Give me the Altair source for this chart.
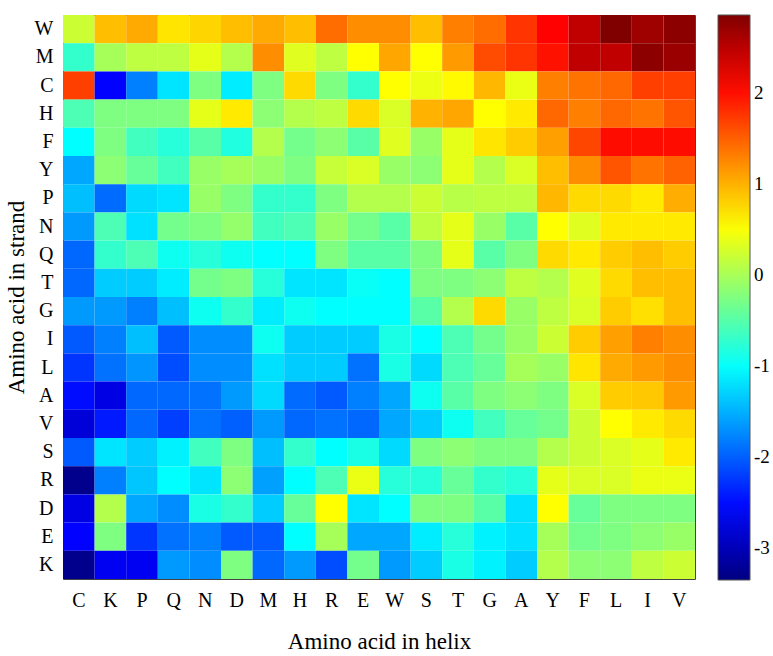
import altair as alt
import pandas as pd

helix = ["C", "K", "P", "Q", "N", "D", "M", "H", "R", "E",
         "W", "S", "T", "G", "A", "Y", "F", "L", "I", "V"]
strand = ["W", "M", "C", "H", "F", "Y", "P", "N", "Q", "T",
          "G", "I", "L", "A", "V", "S", "R", "D", "E", "K"]

row_W = [0.22, 0.92, 1.05, 0.69, 0.79, 0.92, 1.05, 0.92, 1.43, 1.23, 1.23, 0.92, 1.31, 1.43, 1.77, 2.08, 2.47, 2.86, 2.67, 2.78]
row_M = [-0.71, -0.01, 0.14, 0.14, 0.38, 0.07, 1.23, 0.34, 0.14, 0.53, 1.07, 0.53, 1.15, 1.62, 1.77, 1.98, 2.47, 2.47, 2.78, 2.70]
row_C = [1.70, -2.57, -1.80, -1.18, -0.25, -1.13, -0.25, 0.76, -0.25, -0.71, 0.53, 0.42, 0.56, 0.97, 0.41, 1.31, 1.38, 1.46, 1.70, 1.70]
row_H = [-0.56, -0.25, -0.25, -0.25, 0.38, 0.66, -0.17, 0.07, 0.14, 0.76, 0.30, 1.00, 1.07, 0.53, 0.66, 1.46, 1.31, 1.46, 1.38, 1.57]
row_F = [-1.02, -0.25, -0.63, -0.79, -0.48, -0.83, 0.07, -0.32, -0.17, -0.48, 0.34, -0.09, 0.38, 0.69, 0.84, 1.12, 1.66, 2.01, 2.01, 2.01]
row_Y = [-1.56, -0.17, -0.40, -0.63, -0.09, -0.01, -0.09, -0.25, 0.19, 0.30, -0.09, -0.17, 0.38, 0.07, 0.30, 0.92, 1.23, 1.57, 1.38, 1.49]
row_P = [-1.41, -1.92, -1.25, -1.18, -0.09, -0.25, -0.71, -0.71, -0.25, 0.07, 0.07, 0.22, 0.10, 0.14, 0.14, 0.97, 0.76, 0.76, 0.66, 1.03]
row_N = [-1.64, -0.56, -1.21, -0.32, -0.25, -0.12, -0.63, -0.56, -0.09, -0.32, -0.48, 0.14, 0.38, -0.09, -0.48, 0.53, 0.34, 0.66, 0.66, 0.66]
row_Q = [-1.95, -0.71, -0.56, -0.94, -0.79, -0.94, -1.02, -1.02, -0.25, -0.48, -0.48, -0.25, 0.38, -0.48, -0.25, 0.76, 0.66, 0.84, 0.92, 0.84]
row_T = [-1.95, -1.33, -1.33, -1.14, -0.32, -0.25, -0.79, -1.18, -1.18, -0.98, -1.02, -0.25, -0.25, -0.17, 0.14, 0.07, 0.34, 0.76, 0.92, 0.92]
row_G = [-1.64, -1.64, -1.80, -1.41, -0.94, -0.71, -1.14, -0.94, -1.02, -1.02, -1.02, -0.48, 0.07, 0.76, -0.09, 0.14, 0.30, 0.84, 0.72, 0.92]
row_I = [-2.03, -1.80, -1.41, -2.03, -1.72, -1.72, -0.94, -1.33, -1.33, -1.33, -0.87, -1.02, -0.56, -0.32, -0.09, 0.22, 0.84, 1.12, 1.31, 1.23]
row_L = [-2.26, -1.88, -1.67, -2.11, -1.72, -1.72, -1.21, -1.33, -1.33, -1.88, -0.87, -1.25, -0.56, -0.40, -0.01, -0.09, 0.69, 1.05, 1.15, 1.23]
row_A = [-2.50, -2.73, -1.95, -1.95, -1.88, -1.64, -1.25, -1.92, -2.03, -1.80, -1.56, -0.94, -0.48, -0.25, -0.17, -0.25, 0.30, 0.84, 0.87, 1.15]
row_V = [-2.81, -2.42, -1.95, -2.19, -1.88, -1.99, -1.64, -1.95, -1.88, -1.95, -1.56, -1.33, -0.94, -0.63, -0.40, -0.32, 0.22, 0.53, 0.66, 0.76]
row_S = [-2.03, -1.18, -1.33, -1.10, -0.63, -0.25, -1.41, -0.71, -1.02, -0.87, -1.25, -0.25, -0.17, -0.25, -0.25, 0.07, 0.22, 0.30, 0.38, 0.66]
row_R = [-3.27, -1.80, -1.37, -1.02, -1.18, -0.17, -1.60, -1.02, -0.56, 0.41, -0.79, -0.79, -0.40, -0.71, -0.79, 0.38, 0.30, 0.30, 0.41, 0.41]
row_D = [-2.73, 0.07, -1.56, -1.72, -0.87, -0.71, -1.33, -0.40, 0.53, -1.18, -1.02, -0.25, -0.25, -0.48, -1.21, 0.53, -0.40, -0.25, -0.25, -0.25]
row_E = [-2.57, -0.25, -2.26, -1.88, -1.80, -2.03, -2.03, -1.02, -0.01, -1.56, -1.56, -1.14, -0.79, -1.10, -1.21, -0.01, -0.32, -0.25, -0.17, -0.09]
row_K = [-3.27, -2.65, -2.65, -1.64, -1.72, -0.25, -1.95, -1.64, -2.11, -0.32, -1.64, -1.33, -0.87, -1.10, -1.33, 0.07, -0.17, -0.17, 0.14, 0.22]

rows = [row_W, row_M, row_C, row_H, row_F, row_Y, row_P, row_N, row_Q, row_T,
        row_G, row_I, row_L, row_A, row_V, row_S, row_R, row_D, row_E, row_K]

colorbar_ticks = [-3, -2, -1, 0, 1, 2]
cmin, cmax = -3.35, 2.86
jet = ["#000080", "#0000ff", "#0080ff", "#00ffff", "#80ff80",
       "#ffff00", "#ff8000", "#ff0000", "#800000"]
jet_domain = [cmin + (cmax - cmin) * i / 8 for i in range(9)]

records = []
for s, vals in zip(strand, rows):
    for h, v in zip(helix, vals):
        records.append({"helix": h, "strand": s, "value": v})
df = pd.DataFrame(records)

FONT = "Liberation Serif"

chart = alt.Chart(df).mark_rect().encode(
    x=alt.X("helix:N", sort=helix, title="Amino acid in helix",
            axis=alt.Axis(labelAngle=0, labelFontSize=20, labelFont=FONT,
                          labelColor="black", ticks=False, domain=False,
                          labelPadding=11, titleFontSize=23, titleFont=FONT,
                          titleFontWeight="normal", titleColor="black",
                          titlePadding=20)),
    y=alt.Y("strand:N", sort=strand, title="Amino acid in strand",
            axis=alt.Axis(labelFontSize=20, labelFont=FONT, labelColor="black",
                          ticks=False, domain=False, labelPadding=10,
                          titleFontSize=23, titleFont=FONT,
                          titleFontWeight="normal", titleColor="black",
                          titlePadding=6)),
    color=alt.Color("value:Q", title=None,
                    scale=alt.Scale(domain=jet_domain, range=jet,
                                    interpolate="rgb"),
                    legend=alt.Legend(orient="none", legendX=655, legendY=0,
                                      direction="vertical",
                                      gradientLength=565,
                                      gradientThickness=32,
                                      gradientStrokeColor="#555",
                                      gradientStrokeWidth=1,
                                      values=colorbar_ticks,
                                      labelExpr="'' + datum.value",
                                      labelFontSize=19, labelFont=FONT,
                                      labelColor="black", labelOffset=4)),
).properties(
    width=632, height=564,
    autosize=alt.AutoSizeParams(type="none"),
    padding={"left": 63, "top": 15, "right": 78, "bottom": 77},
).configure(
    background="white", font=FONT
).configure_view(
    stroke="#444", strokeWidth=1
).configure_legend(
    labelFont=FONT, labelFontSize=19, labelColor="black"
)

chart.save("out.html", embed_options={"renderer": "svg", "actions": False})
